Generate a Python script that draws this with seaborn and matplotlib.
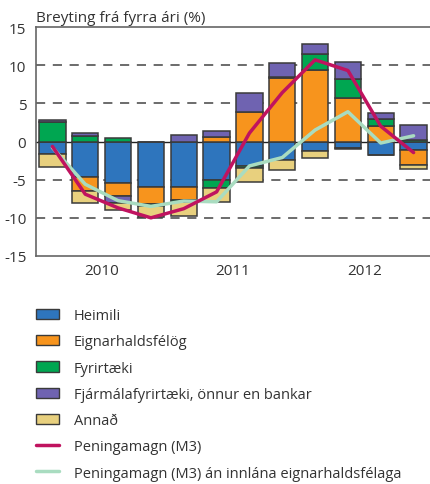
import numpy as np
import pandas as pd
import seaborn as sns
import matplotlib
matplotlib.use("Agg")
import matplotlib.pyplot as plt
from matplotlib.patches import Patch
from matplotlib.lines import Line2D

# Quarterly, 2010 Q1 - 2012 Q4
quarters = ["2010Q1", "2010Q2", "2010Q3", "2010Q4",
            "2011Q1", "2011Q2", "2011Q3", "2011Q4",
            "2012Q1", "2012Q2", "2012Q3", "2012Q4"]
years = ["2010", "2011", "2012"]

heimili = [-1.7, -4.65, -5.5, -5.9, -6.0, -5.0, -3.2, -2.45, -1.25, -0.8, -1.75, -1.05]
eignarhald = [0.0, -1.8, -1.65, -2.3, -1.65, 0.65, 3.85, 8.35, 9.4, 5.75, 2.05, -2.0]
fyrirtaeki = [2.5, 0.7, 0.4, -0.25, -0.25, -1.05, -0.25, 0.1, 2.1, 2.45, 0.85, 0.15]
fjarmala = [0.3, 0.35, -0.9, 0.0, 0.9, 0.75, 2.5, 1.85, 1.3, 2.2, 0.8, 1.95]
annad = [-1.7, -1.6, -0.95, -1.5, -1.8, -1.85, -1.85, -1.25, -0.95, -0.15, -0.05, -0.6]

m3 = [-0.65, -6.9, -8.7, -10.0, -8.8, -6.6, 1.1, 6.4, 10.7, 9.3, 2.0, -1.45]
m3_an = [-0.8, -5.6, -7.75, -8.5, -7.8, -7.9, -3.2, -2.1, 1.5, 3.9, -0.2, 0.75]

series = [
    ("Heimili", heimili, "#2e75bd"),
    ("Eignarhaldsfélög", eignarhald, "#f7941d"),
    ("Fyrirtæki", fyrirtaeki, "#00a651"),
    ("Fjármálafyrirtæki, önnur en bankar", fjarmala, "#6f63b1"),
    ("Annað", annad, "#e8d07e"),
]
m3_color = "#c0135f"
m3an_color = "#a9dcc0"

sns.set_style("white")
plt.rcParams["font.family"] = ["Open Sans", "DejaVu Sans"]
plt.rcParams["font.size"] = 10.5
text_col = "#333333"

fig = plt.figure(figsize=(4.3, 4.85), dpi=100)
ax = fig.add_axes([36 / 430, 1 - 257 / 485, 1 - 36 / 430, (257 - 28) / 485])

# dashed grid + zero line behind bars
for v in [-10, -5, 5, 10]:
    ax.axhline(v, color="#444444", lw=1.1, ls=(0, (6, 5)), zorder=0)
ax.axhline(0, color="#222222", lw=1.0, zorder=0.5)

# stacked bars: positives stack up, negatives stack down
pos_base = np.zeros(len(quarters))
neg_base = np.zeros(len(quarters))
for name, vals, col in series:
    vals = np.array(vals)
    bottom = np.where(vals >= 0, pos_base, neg_base)
    sns.barplot(x=quarters, y=vals, bottom=bottom, order=quarters, color=col,
                width=0.8, edgecolor="#3a3a3a", linewidth=1.1, saturation=1,
                ax=ax, zorder=2)
    pos_base = pos_base + np.where(vals >= 0, vals, 0)
    neg_base = neg_base + np.where(vals < 0, vals, 0)

xpos = np.arange(len(quarters))
sns.lineplot(x=xpos, y=m3_an, color=m3an_color, lw=2.5, ax=ax, zorder=3)
sns.lineplot(x=xpos, y=m3, color=m3_color, lw=2.5, ax=ax, zorder=4)

ax.set_xlim(-0.5, 11.5)
ax.set_ylim(-15, 15)
ax.set_yticks([-15, -10, -5, 0, 5, 10, 15])
ax.set_yticklabels(["-15", "-10", "-5", "0", "5", "10", "15"], fontsize=11, color=text_col)
ax.tick_params(axis="y", length=0, pad=7)

ax.set_xticks([-0.5, 3.5, 7.5, 11.5])
ax.set_xticklabels([])
ax.set_xticks([1.5, 5.5, 9.5], minor=True)
ax.set_xticklabels(years, minor=True, fontsize=11, color=text_col)
ax.tick_params(axis="x", which="major", length=8, width=1, color="#555555", direction="out")
ax.tick_params(axis="x", which="minor", length=0, pad=5)
ax.set_xlabel("")
ax.set_ylabel("")

for s in ["left", "bottom", "top"]:
    ax.spines[s].set_color("#666666")
    ax.spines[s].set_linewidth(1.2)
ax.spines["right"].set_visible(False)

fig.text(36 / 430, 1 - 18 / 485, "Breyting frá fyrra ári (%)", fontsize=11,
         color=text_col, va="center", ha="left")

handles = [Patch(facecolor=c, edgecolor="#3a3a3a", linewidth=1) for _, _, c in series]
handles += [Line2D([], [], color=m3_color, lw=2.5), Line2D([], [], color=m3an_color, lw=2.5)]
labels = [n for n, _, _ in series] + ["Peningamagn (M3)", "Peningamagn (M3) án innlána eignarhaldsfélaga"]
fig.legend(handles, labels, loc="upper left", bbox_to_anchor=(23 / 430, 1 - 296 / 485),
           frameon=False, fontsize=10.5, handlelength=1.6, handleheight=0.7,
           handletextpad=1.0, labelspacing=0.77, labelcolor=text_col)

fig.savefig("out.png", dpi=100)
